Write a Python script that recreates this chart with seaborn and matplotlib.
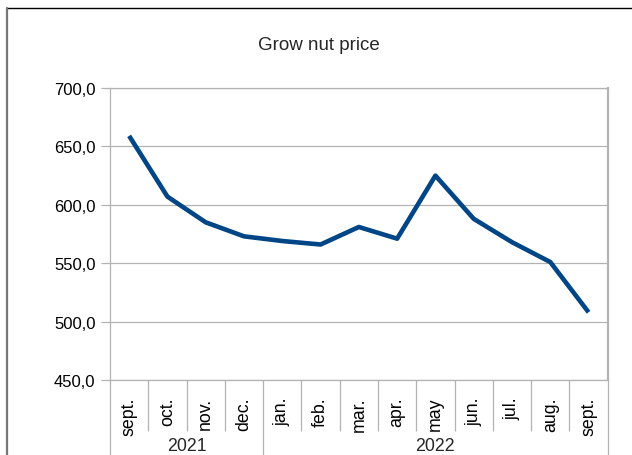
import numpy as np
import pandas as pd
import seaborn as sns
import matplotlib.pyplot as plt
from matplotlib.lines import Line2D
from matplotlib import transforms

months = ["sept.", "oct.", "nov.", "dec.", "jan.", "feb.", "mar.", "apr.",
          "may", "jun.", "jul.", "aug.", "sept."]
years = ["2021", "2022"]
year_span = [4, 9]
price = [659, 607, 585, 573, 569, 566, 581, 571, 625, 588, 568, 551, 508]
yticks = [450, 500, 550, 600, 650, 700]

sns.set_style("white")
plt.rcParams['font.family'] = ['Liberation Sans', 'DejaVu Sans']

df = pd.DataFrame({"pos": np.arange(len(months)), "price": price})

fig = plt.figure(figsize=(6.32, 4.56), dpi=100)
ax = fig.add_axes([110 / 632, 1 - 381 / 456, (607.7 - 110) / 632, (381 - 89) / 456])

sns.lineplot(data=df, x="pos", y="price", ax=ax, color="#004586", linewidth=3.3,
             solid_joinstyle="round", solid_capstyle="butt")

grid_c = "#b3b3b3"
ax.set_xlim(-0.5, len(months) - 0.5)
ax.set_ylim(yticks[0], yticks[-1])
ax.set_yticks(yticks)
ax.set_yticklabels([f"{v:.1f}".replace(".", ",") for v in yticks], fontsize=12, color="black")
ax.yaxis.grid(True, color=grid_c, linewidth=0.9)
ax.tick_params(axis="y", left=True, length=6.5, width=0.9, color=grid_c, pad=4)

ax.set_xticks(df["pos"])
ax.set_xticklabels(months, rotation=90, fontsize=12.8, color="black")
ax.tick_params(axis="x", length=0, pad=12)
ax.set_xlabel("")
ax.set_ylabel("")

for s in ax.spines.values():
    s.set_color(grid_c)
    s.set_linewidth(0.9)
ax.spines["right"].set_linewidth(1.6)

# separators below the axis
trans = transforms.blended_transform_factory(ax.transData, ax.transAxes)
edges = np.cumsum([0] + year_span) - 0.5
inner = [b - 0.5 for b in range(1, len(months)) if (b - 0.5) not in edges]
ax.vlines(inner, -51 / 292, 0, transform=trans, colors=grid_c, linewidth=0.9, clip_on=False)
ax.vlines(edges, -0.3, 0, transform=trans, colors=grid_c, linewidth=0.9, clip_on=False)

# year labels
for i, yr in enumerate(years):
    mid = (edges[i] + edges[i + 1]) / 2
    ax.text(mid, -66 / 292, yr, transform=trans, ha="center", va="center", fontsize=12.8)

fig.text(319 / 632, 1 - 45 / 456, "Grow nut price", ha="center", va="center", fontsize=13.5)

# outer frame
fig.add_artist(Line2D([7 / 632, 1], [1 - 9 / 456, 1 - 9 / 456], color="black", linewidth=1))
fig.add_artist(Line2D([7 / 632, 7 / 632], [0, 1 - 9 / 456], color="#777777", linewidth=1.6))

fig.savefig("out.png", dpi=100)
